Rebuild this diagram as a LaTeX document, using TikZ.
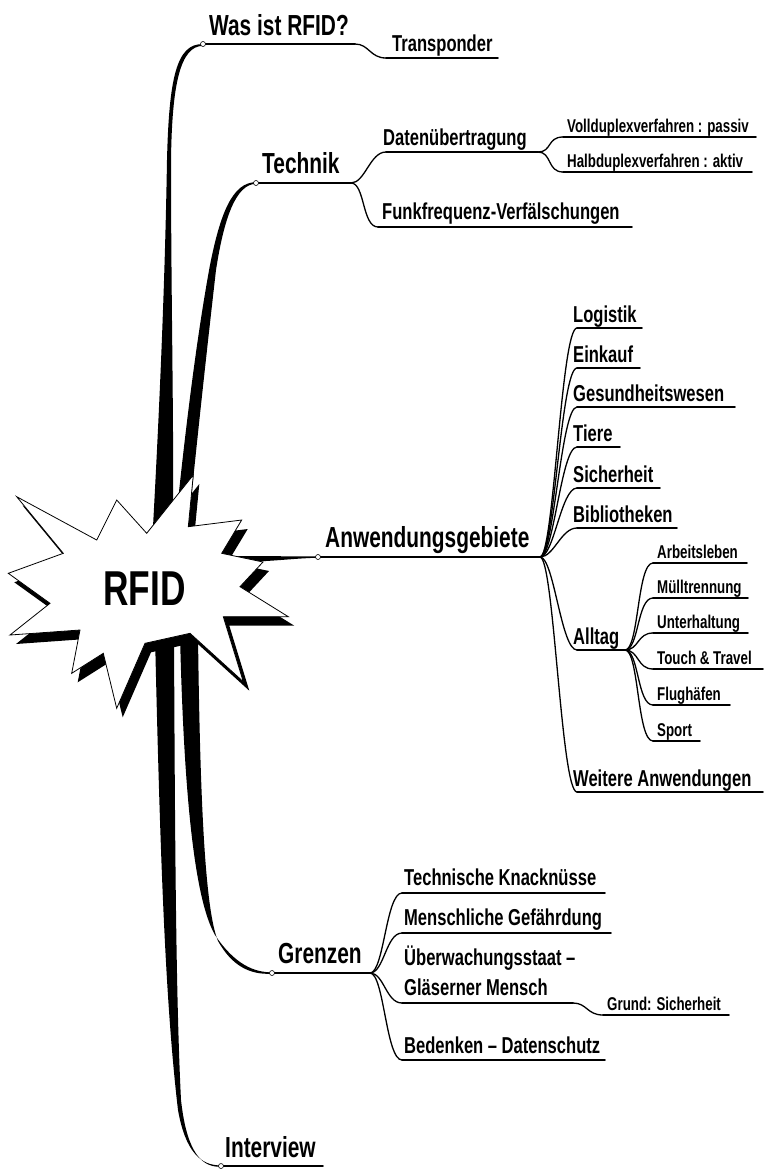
\documentclass[tikz,border=0pt]{standalone}
\usepackage{fontspec}
\setmainfont{Liberation Sans}[FakeStretch=0.72]
\newcommand\rfidstar{(16.7,496.7) -- (96.7,540) -- (116.7,500) -- (146.7,533.3) -- (193.3,475) -- (188.3,526.7) -- (241.7,520) -- (221.7,553.3) -- (263,562) -- (240,586.7) -- (288.3,616.7) -- (223.3,616.7) -- (243.3,681.7) -- (190,633.3) -- (145,643.3) -- (116.7,708.3) -- (103.3,653.3) -- (71.7,673.3) -- (80,630) -- (10,635) -- (50,603.3) -- (8.3,573.3) -- (63.3,553.3) -- cycle}
\newcommand\mm[8]{%
  \coordinate (#1l) at (#3,#5);
  \coordinate (#1r) at (#4,#5);
  \draw[uline] (#1l) -- (#1r);
  \node[#2] (#1) at (#6,#7) {#8};
}
\newcommand\mmlink[2]{\draw[conn] (#1) .. controls +(14,0) and +(-16,0) .. (#2);}
\begin{document}
\begin{tikzpicture}[x=1pt,y=-1pt,
  lone/.style={font=\bfseries\fontsize{29}{31}\selectfont, anchor=base west, inner sep=0pt},
  ltwo/.style={font=\bfseries\fontsize{23}{30}\selectfont, anchor=base west, inner sep=0pt},
  lthree/.style={font=\bfseries\fontsize{18.5}{22}\selectfont, anchor=base west, inner sep=0pt},
  uline/.style={line width=1.9pt, line cap=round},
  conn/.style={line width=1.3pt},
  enddot/.style={circle, draw=black, fill=white, inner sep=0pt, minimum size=5pt, line width=0.6pt},
  trunk/.style={fill=black}]
\fill[white] (0,0) rectangle (767,1176);
\useasboundingbox (0,0) rectangle (767,1176);

% ---------- trunks ----------
\fill[trunk] (203,44.2) .. controls (176,43) and (169,80) .. (167,160) .. controls (165,280) and (160,400) .. (152,545) -- (173,545) .. controls (174,420) and (171,300) .. (171,160) .. controls (172,85) and (180,46) .. (203,45.8) -- cycle;
\fill[trunk] (256,182.2) .. controls (232,182) and (220,215) .. (210,265) .. controls (198,330) and (186,420) .. (174,540) -- (188,530) .. controls (198,430) and (208,340) .. (216,270) .. controls (224,218) and (236,184) .. (256,183.8) -- cycle;
\fill[trunk] (155,635) .. controls (160,850) and (165,1000) .. (178,1110) .. controls (185,1150) and (200,1166) .. (221,1165.3) -- (221,1166.7) .. controls (198,1168) and (186,1145) .. (181,1100) .. controls (176,1000) and (175,850) .. (174,635) -- cycle;
\fill[trunk] (180,635) .. controls (184,800) and (195,900) .. (215,935) .. controls (235,965) and (255,972.5) .. (272,972.3) -- (272,973.7) .. controls (250,975) and (232,966) .. (218,941) .. controls (205,910) and (200,800) .. (198,635) -- cycle;
\fill[trunk] (232,556) .. controls (270,556) and (290,556.5) .. (318,556.3) -- (318,557.7) .. controls (290,558.5) and (270,562) .. (232,562) -- cycle;

% ---------- star ----------
\fill[black, shift={(6,9)}] \rfidstar;
\filldraw[fill=white, draw=black, line width=0.8pt, line join=miter] \rfidstar;
\node[font=\bfseries\fontsize{49}{51}\selectfont, anchor=base west, inner sep=0pt] (rfid) at (103,605) {RFID};

% ---------- Was ist RFID? ----------
\mm{was}{lone}{203}{355}{44}{209}{35}{Was ist RFID?}
\mm{tra}{ltwo}{386}{498}{58}{392}{51}{Transponder}
\mmlink{wasr}{tral}

% ---------- Technik ----------
\mm{tec}{lone}{256}{351}{183}{262}{173}{Technik}
\mm{dat}{ltwo}{386}{538}{152}{383}{145}{Datenübertragung}
\mm{fun}{ltwo}{378}{632}{227}{382}{219}{Funkfrequenz-Verfälschungen}
\mm{vol}{lthree}{563}{756}{137}{567}{132}{Vollduplexverfahren : passiv}
\mm{hal}{lthree}{563}{752}{172}{567}{167}{Halbduplexverfahren : aktiv}
\mmlink{tecr}{datl}
\mmlink{tecr}{funl}
\mmlink{datr}{voll}
\mmlink{datr}{hall}

% ---------- Anwendungsgebiete ----------
\mm{anw}{lone}{318}{540}{557}{325}{547}{Anwendungsgebiete}
\mm{log}{ltwo}{577}{642}{328}{573}{322}{Logistik}
\mm{ein}{ltwo}{577}{640}{368}{573}{362}{Einkauf}
\mm{ges}{ltwo}{577}{735}{407}{573}{401}{Gesundheitswesen}
\mm{tie}{ltwo}{577}{620}{447}{573}{441}{Tiere}
\mm{sic}{ltwo}{577}{660}{488}{573}{482}{Sicherheit}
\mm{bib}{ltwo}{577}{677}{528}{573}{522}{Bibliotheken}
\mm{all}{ltwo}{577}{625}{650}{573}{644}{Alltag}
\mm{wei}{ltwo}{577}{763}{792}{573}{786}{Weitere Anwendungen}
\foreach \n in {log,ein,ges,tie,sic,bib,all,wei}{\mmlink{anwr}{\n l}}
\mm{arb}{lthree}{653}{747}{563}{657}{558}{Arbeitsleben}
\mm{mue}{lthree}{653}{748}{598}{657}{593}{Mülltrennung}
\mm{unt}{lthree}{653}{748}{633}{657}{628}{Unterhaltung}
\mm{tou}{lthree}{653}{763}{669}{657}{664}{Touch \& Travel}
\mm{flu}{lthree}{653}{730}{705}{657}{700}{Flughäfen}
\mm{spo}{lthree}{653}{700}{741}{657}{736}{Sport}
\foreach \n in {arb,mue,unt,tou,flu,spo}{\mmlink{allr}{\n l}}

% ---------- Grenzen ----------
\mm{gre}{lone}{272}{370}{973}{278}{963}{Grenzen}
\mm{tkn}{ltwo}{402}{605}{893}{404}{885}{Technische Knacknüsse}
\mm{men}{ltwo}{402}{611}{933}{404}{925}{Menschliche Gefährdung}
\coordinate (uebl) at (402,1003);
\coordinate (uebr) at (573,1003);
\draw[uline] (uebl) -- (uebr);
\node[ltwo, anchor=south west, align=left] (ueb) at (404,996) {Überwachungsstaat –\\Gläserner Mensch};
\mm{gru}{lthree}{603}{729}{1015}{607}{1010}{Grund: Sicherheit}
\mm{bed}{ltwo}{402}{605}{1060}{404}{1053}{Bedenken – Datenschutz}
\foreach \n in {tkn,men,ueb,bed}{\mmlink{grer}{\n l}}
\mmlink{uebr}{grul}

% ---------- Interview ----------
\mm{int}{lone}{221}{323}{1166}{225}{1157}{Interview}

% ---------- end dots ----------
\node[enddot] at (wasl) {};
\node[enddot] at (tecl) {};
\node[enddot] at (anwl) {};
\node[enddot] at (grel) {};
\node[enddot] at (intl) {};
\end{tikzpicture}
\end{document}
